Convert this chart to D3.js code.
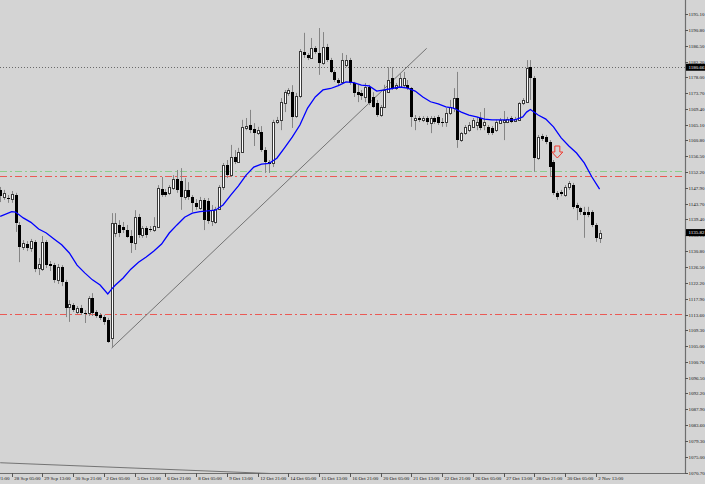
<!DOCTYPE html>
<html><head><meta charset="utf-8">
<script src="https://cdn.jsdelivr.net/npm/d3@7"></script>
<style>html,body{margin:0;padding:0;background:#d3d3d3;}svg{display:block;}</style>
</head><body>
<svg id="c" width="705" height="484"></svg>
<script>
// ---- data (H4 candles) ----
const open = [1147.4,1145.5,1145.2,1144.9,1146.0,1137.9,1131.9,1132.7,1131.6,1133.3,
1126.2,1125.9,1133.3,1127.3,1127.0,1123.0,1126.5,1122.4,1115.6,1116.2,
1114.3,1115.4,1114.0,1114.0,1118.1,1114.3,1113.5,1112.9,1112.1,1107.2,
1135.7,1137.9,1137.3,1136.5,1134.9,1133.0,1140.0,1135.2,1137.1,1136.8,
1136.5,1137.3,1147.6,1146.8,1146.6,1147.9,1150.4,1149.8,1145.5,1147.4,
1145.5,1143.9,1142.5,1144.7,1144.4,1139.0,1138.7,1142.2,1148.2,1154.2,
1151.4,1156.3,1155.0,1157.7,1164.2,1165.0,1163.9,1162.8,1163.1,1158.2,
1155.0,1154.7,1165.8,1166.4,1171.0,1173.7,1173.9,1167.4,1172.9,1184.8,
1184.0,1183.2,1185.9,1184.5,1181.8,1186.2,1182.6,1179.4,1177.2,1176.7,
1181.3,1182.6,1176.4,1173.9,1173.7,1172.6,1175.3,1172.6,1171.0,1167.7,
1169.9,1173.9,1177.7,1175.0,1175.3,1175.9,1175.9,1175.0,1166.4,1166.9,
1166.4,1166.9,1165.5,1166.9,1167.2,1165.8,1165.8,1168.3,1169.6,1172.3,
1160.9,1162.8,1163.6,1164.5,1165.0,1166.9,1165.0,1164.5,1164.2,1163.6,
1165.5,1165.8,1165.8,1166.9,1166.1,1166.4,1171.0,1171.2,1180.7,1177.7,
1156.0,1162.0,1161.8,1160.4,1155.0,1146.6,1146.8,1146.0,1148.2,1148.7,
1143.3,1142.5,1141.4,1141.4,1141.4,1137.9,1134.4];
const high = [1148.2,1147.4,1146.0,1147.1,1146.6,1138.7,1133.8,1133.5,1134.1,1133.8,
1128.9,1134.9,1133.8,1128.1,1127.6,1127.3,1127.0,1123.0,1117.5,1116.7,
1115.9,1116.2,1114.8,1118.6,1119.4,1114.8,1114.0,1113.5,1112.7,1141.1,
1141.1,1139.2,1138.7,1137.9,1136.5,1141.9,1140.9,1137.6,1137.6,1137.6,
1140.0,1148.7,1150.9,1147.6,1148.7,1151.4,1152.8,1153.3,1150.6,1149.5,
1146.0,1144.9,1145.5,1145.2,1145.2,1143.3,1142.8,1148.7,1154.7,1155.5,
1159.6,1158.2,1158.8,1166.4,1166.9,1169.1,1165.5,1164.5,1164.7,1159.0,
1155.5,1166.4,1167.2,1172.3,1174.5,1175.0,1175.8,1173.7,1185.6,1190.0,
1184.5,1188.6,1186.4,1191.3,1190.2,1187.0,1183.2,1179.9,1177.7,1184.5,
1184.0,1183.2,1176.7,1175.9,1174.5,1176.4,1175.9,1173.9,1171.8,1170.4,
1175.9,1180.7,1180.7,1176.4,1179.1,1179.4,1177.2,1175.3,1167.7,1167.4,
1167.4,1167.4,1167.4,1167.4,1167.7,1166.9,1169.6,1171.8,1175.0,1179.4,
1163.1,1165.0,1165.8,1166.9,1167.2,1168.5,1169.6,1165.0,1164.7,1166.4,
1166.9,1168.8,1167.2,1167.4,1167.2,1171.2,1172.3,1182.6,1182.6,1178.3,
1162.3,1162.6,1162.3,1160.9,1155.5,1147.1,1147.4,1148.7,1149.8,1149.3,
1143.9,1142.8,1142.8,1142.8,1141.9,1138.4,1136.5];
const low = [1144.1,1144.7,1143.9,1143.9,1136.0,1127.8,1131.1,1130.8,1130.6,1125.1,
1124.3,1125.4,1126.2,1125.4,1122.2,1121.9,1121.3,1112.9,1111.6,1114.3,
1113.7,1113.5,1111.3,1113.2,1113.2,1112.7,1112.1,1110.8,1105.9,1104.5,
1134.6,1134.6,1135.7,1134.4,1130.3,1131.1,1134.4,1134.4,1134.4,1136.0,
1136.0,1137.1,1145.5,1145.5,1146.0,1147.4,1146.6,1142.0,1144.7,1144.7,
1141.4,1142.0,1142.0,1136.5,1138.2,1137.6,1138.2,1142.0,1147.4,1150.6,
1150.9,1154.4,1154.7,1157.4,1163.6,1162.8,1159.3,1162.3,1157.7,1152.0,
1152.0,1153.6,1165.3,1163.6,1168.5,1172.9,1164.2,1166.9,1172.3,1183.2,
1182.6,1182.9,1184.3,1178.6,1181.3,1182.1,1179.1,1176.7,1175.6,1176.1,
1180.7,1175.9,1172.6,1171.2,1171.8,1171.2,1170.4,1169.6,1167.2,1167.2,
1169.6,1173.7,1174.5,1174.5,1175.0,1175.3,1174.5,1164.5,1163.6,1165.8,
1165.8,1165.0,1162.8,1165.3,1165.0,1164.5,1164.5,1167.7,1168.5,1158.8,
1160.4,1162.3,1163.1,1164.2,1163.6,1163.6,1163.6,1162.3,1162.3,1163.1,
1165.3,1160.9,1165.5,1165.5,1165.8,1166.1,1170.4,1171.0,1171.8,1152.3,
1155.5,1160.7,1159.8,1150.9,1146.0,1144.7,1145.7,1145.5,1147.4,1142.2,
1139.2,1140.6,1134.4,1140.0,1137.3,1133.3,1133.0];
const close = [1145.7,1146.6,1144.9,1146.3,1138.4,1131.9,1133.0,1131.6,1133.5,1125.9,
1127.3,1133.3,1127.0,1126.8,1123.0,1126.5,1122.4,1115.4,1116.5,1114.8,
1115.4,1114.0,1113.7,1118.1,1114.0,1113.2,1112.7,1111.6,1106.2,1138.4,
1138.4,1135.7,1136.5,1134.6,1133.0,1140.0,1135.2,1137.1,1135.2,1136.5,
1137.6,1147.9,1146.0,1146.0,1148.2,1150.4,1147.4,1145.5,1147.4,1145.5,
1143.9,1142.8,1144.7,1139.2,1139.0,1142.0,1142.2,1148.2,1154.2,1151.4,
1156.3,1155.0,1157.7,1164.5,1164.7,1163.6,1162.8,1163.6,1158.2,1155.0,
1154.4,1165.8,1166.4,1171.2,1174.0,1174.5,1167.2,1172.9,1185.1,1184.0,
1183.2,1185.9,1184.8,1181.8,1186.2,1182.6,1179.4,1177.2,1176.4,1182.6,
1182.6,1176.4,1173.7,1173.1,1172.9,1175.3,1171.0,1169.9,1167.7,1169.9,
1174.5,1177.2,1175.0,1175.9,1177.7,1177.7,1175.0,1167.2,1166.9,1166.4,
1166.9,1165.8,1166.9,1165.8,1165.5,1165.5,1168.3,1169.9,1172.3,1160.9,
1162.8,1164.5,1165.0,1166.4,1165.8,1164.2,1165.8,1162.8,1162.8,1165.8,
1166.4,1166.4,1166.6,1165.8,1166.6,1171.0,1171.8,1180.5,1177.7,1156.0,
1161.8,1161.2,1160.4,1153.6,1146.6,1145.5,1146.3,1148.2,1149.3,1142.8,
1142.5,1141.4,1140.6,1140.6,1137.9,1134.4,1135.82];

// moving average (blue line), read at bar positions
const maBars = [0,3,4,6,8,10,12,14,16,18,20,22,24,26,28,29,30,32,34,36,38,40,42,44,46,48,50,52,54,56,58,60,62,64,66,68,70,72,74,76,78,80,82,84,86,88,90,92,94,96,98,100,102,104,106,108,110,112,114,116,118,120,122,124,126,128,130,132,134,136,137,138,140,142,144,146,148,150,152,154,156];
const maValues = [1140.2,1141.5,1141.4,1139.8,1138.6,1136.8,1135.7,1134.1,1132.5,1130.3,1127.0,1124.9,1123.0,1121.6,1119.2,1120.5,1121.6,1123.5,1125.9,1127.8,1129.2,1130.8,1132.7,1135.7,1137.9,1140.0,1141.1,1141.5,1141.7,1141.9,1143.3,1146.0,1148.5,1151.4,1153.6,1154.4,1154.6,1156.0,1158.8,1161.7,1165.0,1169.6,1172.6,1174.5,1174.9,1175.7,1176.7,1176.5,1175.8,1175.6,1174.2,1174.5,1174.9,1175.3,1175.0,1174.2,1172.6,1171.3,1170.7,1169.9,1169.6,1168.5,1167.7,1167.2,1166.6,1166.4,1166.4,1166.4,1166.4,1167.2,1168.5,1169.2,1167.7,1166.6,1164.5,1161.5,1159.3,1157.4,1154.7,1150.9,1147.6];

// time axis labels (every 8 bars)
const timeLabelBars = [-5,3,11,19,27,35,43,51,59,67,75,83,91,99,107,115,123,131,139,147,155];
const timeLabels = ["25 Sep 21:00","28 Sep 05:00","29 Sep 13:00","30 Sep 21:00","2 Oct 05:00","5 Oct 13:00","6 Oct 21:00","8 Oct 05:00","9 Oct 13:00","12 Oct 21:00","14 Oct 05:00","15 Oct 13:00","16 Oct 21:00","20 Oct 05:00","21 Oct 13:00","22 Oct 21:00","26 Oct 05:00","27 Oct 13:00","28 Oct 21:00","30 Oct 05:00","2 Nov 13:00"];

// price axis labels
const priceTicks = [1195.10,1190.80,1186.50,1182.20,1178.00,1173.70,1169.40,1165.10,1160.80,1156.50,1152.20,1147.90,1143.70,1139.40,1135.10,1130.80,1126.50,1122.20,1117.90,1113.60,1109.30,1105.00,1100.70,1096.50,1092.20,1087.90,1083.60,1079.30,1075.00,1070.70];

// horizontal levels, trend lines, signal arrow
const dottedLevel = 1180.66;
const greenLevels = [1152.5];
const redLevels = [1151.1, 1113.66];
const trendA = [[29, 1104.5], [111, 1185.8]];
const trendB = [[0, 1073.4], [100, 1069.25]];
const arrowBar = 145, arrowPrice = 1159.3;
const lastPrice = 1135.82;

// ---- drawing ----
const W = 705, H = 484, plotR = 685, plotB = 473;
const svg = d3.select("#c");
const x = d3.scaleLinear().domain([0, 156]).range([0.2, 599.6]);
const y = d3.scaleLinear().domain([1070.62, 1198.90]).range([plotB, 0]);
const FONT = "'Liberation Serif','DejaVu Serif',serif";

svg.append("rect").attr("width", W).attr("height", H).attr("fill", "#d4d4d4");
svg.append("clipPath").attr("id", "plot").append("rect")
  .attr("x", 0).attr("y", 0).attr("width", plotR).attr("height", plotB);
const g = svg.append("g").attr("clip-path", "url(#plot)");

// levels
g.append("line").attr("x1", 0).attr("x2", plotR)
  .attr("y1", Math.round(y(dottedLevel)) + 0.5).attr("y2", Math.round(y(dottedLevel)) + 0.5)
  .attr("stroke", "#6a6a6a").attr("stroke-dasharray", "1,2");
greenLevels.forEach(v => g.append("line").attr("x1", 0).attr("x2", plotR)
  .attr("y1", Math.round(y(v)) + 0.5).attr("y2", Math.round(y(v)) + 0.5)
  .attr("stroke", "#8ccf8c").attr("stroke-dasharray", "7,3,2,3"));
redLevels.forEach(v => g.append("line").attr("x1", 0).attr("x2", plotR)
  .attr("y1", Math.round(y(v)) + 0.5).attr("y2", Math.round(y(v)) + 0.5)
  .attr("stroke", "#ea5a55").attr("stroke-dasharray", "7,3,2,3"));

// trend lines
[trendA, trendB].forEach(t => g.append("line")
  .attr("x1", x(t[0][0])).attr("y1", y(t[0][1]))
  .attr("x2", x(t[1][0])).attr("y2", y(t[1][1]))
  .attr("stroke", "#5a5a5a").attr("stroke-width", 0.8));

// candles
const bars = d3.range(open.length).map(i => ({i, o: open[i], h: high[i], l: low[i], c: close[i]}));
const cg = g.append("g");
cg.selectAll("line.w").data(bars).join("line").attr("class", "w")
  .attr("x1", d => Math.round(x(d.i)) + 0.5).attr("x2", d => Math.round(x(d.i)) + 0.5)
  .attr("y1", d => y(d.h)).attr("y2", d => y(d.l))
  .attr("stroke", "#858585").attr("stroke-width", 1);
cg.selectAll("rect.b").data(bars).join("rect").attr("class", "b")
  .each(function(d) {
    const top = Math.round(y(Math.max(d.o, d.c)));
    const bot = Math.round(y(Math.min(d.o, d.c)));
    const cx = Math.round(x(d.i));
    const sel = d3.select(this);
    if (d.c >= d.o) {
      sel.attr("x", cx - 0.5).attr("y", top + 0.5).attr("width", 2)
        .attr("height", Math.max(bot - top, 1))
        .attr("fill", "#ffffff").attr("stroke", "#3a3a3a").attr("stroke-width", 1);
    } else {
      sel.attr("x", cx - 1).attr("y", top).attr("width", 3)
        .attr("height", Math.max(bot - top, 1)).attr("fill", "#000");
    }
  });

// moving average
const ma = maBars.map((b, k) => [b, maValues[k]]);
g.append("path").datum(ma)
  .attr("d", d3.line().x(d => x(d[0])).y(d => y(d[1])))
  .attr("fill", "none").attr("stroke", "#0000ff").attr("stroke-width", 1.3);

// sell arrow
const ax = x(arrowBar), ay = y(arrowPrice);
g.append("path")
  .attr("d", `M${ax-2.5},${ay} L${ax+2.5},${ay} L${ax+2.5},${ay+6} L${ax+5.5},${ay+6} L${ax},${ay+12} L${ax-5.5},${ay+6} L${ax-2.5},${ay+6} Z`)
  .attr("fill", "#d4d4d4").attr("stroke", "#f03a30").attr("stroke-width", 1);

// axes lines
svg.append("line").attr("x1", plotR + 0.5).attr("x2", plotR + 0.5).attr("y1", 0).attr("y2", plotB + 1)
  .attr("stroke", "#6e6e6e").attr("stroke-width", 1.2);
svg.append("line").attr("x1", 0).attr("x2", plotR + 1).attr("y1", plotB + 0.5).attr("y2", plotB + 0.5)
  .attr("stroke", "#6e6e6e").attr("stroke-width", 1.2);

// price axis
const pa = svg.append("g");
priceTicks.forEach(v => {
  const yy = Math.round(y(v)) + 0.5;
  pa.append("line").attr("x1", plotR).attr("x2", plotR + 3).attr("y1", yy).attr("y2", yy)
    .attr("stroke", "#555");
  pa.append("text").attr("x", plotR + 3.5).attr("y", yy).attr("dy", "0.35em")
    .attr("font-family", FONT).attr("font-size", 5).attr("fill", "#111").text(v.toFixed(2));
});
[dottedLevel, lastPrice].forEach(v => {
  const yy = y(v);
  pa.append("rect").attr("x", plotR + 1).attr("y", yy - 3.5).attr("width", W - plotR - 1).attr("height", 7)
    .attr("fill", "#000");
  pa.append("text").attr("x", plotR + 3.5).attr("y", yy).attr("dy", "0.35em")
    .attr("font-family", FONT).attr("font-size", 5).attr("fill", "#fff").text(v.toFixed(2));
});

// time axis
const ta = svg.append("g");
timeLabelBars.forEach((b, k) => {
  const xx = Math.round(x(b)) + 0.5;
  ta.append("line").attr("x1", xx).attr("x2", xx).attr("y1", plotB).attr("y2", plotB + 4)
    .attr("stroke", "#555");
  ta.append("text").attr("x", xx + 1.7).attr("y", plotB + 7.3)
    .attr("font-family", FONT).attr("font-size", 5).attr("fill", "#111").text(timeLabels[k]);
});
</script>
</body></html>
